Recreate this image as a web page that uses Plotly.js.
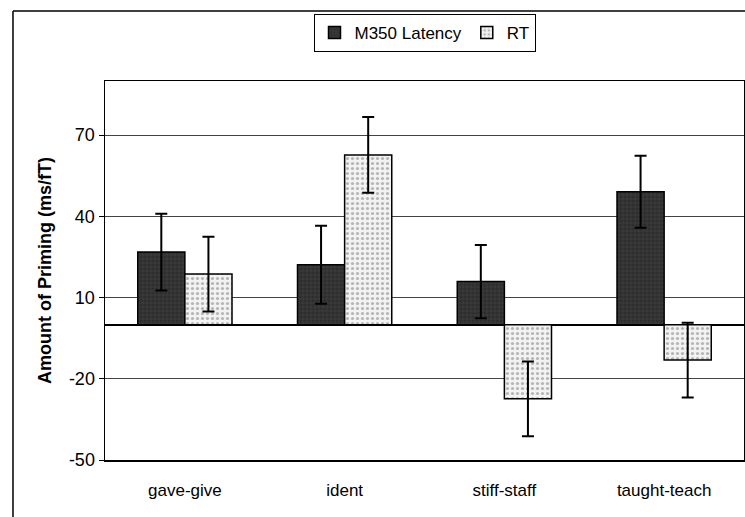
<!DOCTYPE html>
<html><head><meta charset="utf-8">
<script src="https://cdn.plot.ly/plotly-3.0.1.min.js"></script>
<style>html,body{margin:0;padding:0;background:#fff;}#chart{width:745px;height:517px;}</style>
</head><body><div id="chart"></div>
<script>
const categories = ["gave-give", "ident", "stiff-staff", "taught-teach"];
const m350 = [26.8, 22.1, 15.9, 49.1];
const m350Err = [14.2, 14.4, 13.5, 13.3];
const rt = [18.7, 62.7, -27.4, -13.1];
const rtErr = [13.8, 14.0, 13.8, 13.8];
const yTicks = [-50, -20, 10, 40, 70];

const font = "Liberation Sans, Arial, sans-serif";
const traces = [
  {type: "bar", name: "M350 Latency", x: categories, y: m350,
   error_y: {type: "data", array: m350Err, visible: true, color: "#000", thickness: 2, width: 6},
   marker: {color: "#333", line: {color: "#000", width: 1.5},
            pattern: {shape: "+", fgcolor: "#4a4a4a", bgcolor: "#2e2e2e", size: 4, solidity: 0.2}}},
  {type: "bar", name: "RT", x: categories, y: rt,
   error_y: {type: "data", array: rtErr, visible: true, color: "#000", thickness: 2, width: 6},
   marker: {color: "#ededed", line: {color: "#000", width: 1.5},
            pattern: {shape: ".", fgcolor: "#b5b5b5", bgcolor: "#f2f2f2", size: 5, solidity: 0.3}}}
];
const layout = {
  width: 745, height: 517,
  margin: {l: 105, r: 1, t: 81, b: 57},
  paper_bgcolor: "#fff", plot_bgcolor: "#fff",
  font: {family: font, size: 16, color: "#000"},
  barmode: "group", bargap: 0.41, bargroupgap: 0,
  showlegend: true,
  legend: {orientation: "h", x: 0.5, xanchor: "center", y: 1.127, yanchor: "middle",
           bordercolor: "#000", borderwidth: 1, bgcolor: "#fff",
           font: {family: font, size: 17, color: "#000"}, traceorder: "normal",
           itemwidth: 30, tracegroupgap: 0},
  xaxis: {showline: true, mirror: true, linecolor: "#000", linewidth: 1.5,
          ticks: "", showgrid: false, tickfont: {family: font, size: 17},
          ticklabelstandoff: 14, fixedrange: true},
  yaxis: {range: [-50, 90], tickvals: yTicks, ticktext: yTicks.map(String),
          showgrid: true, gridcolor: "#444", gridwidth: 1,
          zeroline: true, zerolinecolor: "#000", zerolinewidth: 2,
          showline: true, mirror: true, linecolor: "#000", linewidth: 1.5,
          ticks: "outside", ticklen: 5, tickcolor: "#000",
          tickfont: {family: font, size: 18},
          title: {text: "<b>Amount of Priming (ms/fT)</b>", font: {family: font, size: 18}, standoff: 12}},
  shapes: [
    {type: "line", xref: "paper", yref: "paper", x0: -0.144, x1: -0.144, y0: -0.2, y1: 1.1847,
     line: {color: "#000", width: 1.5}},
    {type: "line", xref: "paper", yref: "paper", x0: -0.144, x1: 1.01, y0: 1.1847, y1: 1.1847,
     line: {color: "#000", width: 1.5}}
  ]
};
Plotly.newPlot("chart", traces, layout, {displayModeBar: false, staticPlot: true});
</script></body></html>
